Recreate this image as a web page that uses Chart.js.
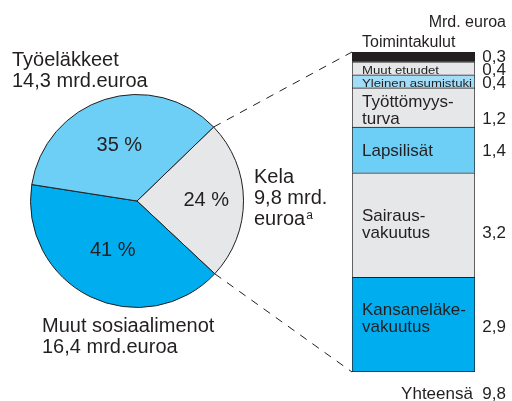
<!DOCTYPE html>
<html>
<head>
<title>Kela - sosiaalimenot</title>
<script src="https://cdn.jsdelivr.net/npm/chart.js"></script>
<style>
    body { margin: 0; background: #fff; }
    #wrap { position: relative; width: 512px; height: 401px; }
    #wrap canvas { position: absolute; left: 0; top: 0; }
</style>
</head>
<body>
<div id="wrap">
    <canvas id="pieChart" width="512" height="401"></canvas>
    <canvas id="barChart" width="512" height="401"></canvas>
</div>
<script>
const pieLabels = ['Kela', 'Muut sosiaalimenot', 'Työeläkkeet'];
const pieValues = [9.8, 16.4, 14.3];
const pieShares = ['24 %', '41 %', '35 %'];
const pieColors = ['#e6e7e8', '#00aeef', '#6dcff6'];

// Kela breakdown, bottom to top
const kelaLabels = ['Kansaneläkevakuutus', 'Sairausvakuutus', 'Lapsilisät', 'Työttömyysturva', 'Yleinen asumistuki', 'Muut etuudet', 'Toimintakulut'];
const kelaLines = [['Kansaneläke-', 'vakuutus'], ['Sairaus-', 'vakuutus'], ['Lapsilisät'], ['Työttömyys-', 'turva'], ['Yleinen asumistuki'], ['Muut etuudet'], ['Toimintakulut']];
const kelaValues = [2.9, 3.2, 1.4, 1.2, 0.4, 0.4, 0.3];
const kelaTotal = 9.8;
const kelaColors = ['#00aeef', '#e6e7e8', '#6dcff6', '#e6e7e8', '#a3dcf7', '#e6e7e8', '#231f20'];

const ink = '#231f20';
const font = '"Liberation Sans", Arial, sans-serif';
const fmt = v => v.toFixed(1).replace('.', ',');

//Pie with its labels
const pieText = {
    id: 'pieText',
    afterDraw(chart) {
        const ctx = chart.ctx;
        const arcs = chart.getDatasetMeta(0).data;
        const radial = [0.65, 0.52, 0.55];
        ctx.save();
        ctx.fillStyle = ink;
        ctx.font = '20px ' + font;
        ctx.textAlign = 'center';
        ctx.textBaseline = 'middle';
        arcs.forEach((a, i) => {
            const mid = (a.startAngle + a.endAngle) / 2;
            const d = a.outerRadius * radial[i];
            ctx.fillText(pieShares[i], a.x + Math.cos(mid) * d, a.y + Math.sin(mid) * d);
        });
        ctx.textAlign = 'left';
        ctx.textBaseline = 'alphabetic';
        ctx.fillText('Työeläkkeet', 12, 66);
        ctx.fillText('14,3 mrd.euroa', 12, 87);
        ctx.fillText('Kela', 254, 183);
        ctx.fillText('9,8 mrd.', 254, 204);
        ctx.fillText('euroa', 254, 225);
        const w = ctx.measureText('euroa').width;
        ctx.font = '12px ' + font;
        ctx.fillText('a', 255 + w, 219);
        ctx.font = '20px ' + font;
        ctx.fillText('Muut sosiaalimenot', 42, 332);
        ctx.fillText('16,4 mrd.euroa', 42, 353);
        ctx.restore();
    }
};

const pie = new Chart(document.getElementById('pieChart'), {
    type: 'pie',
    data: {
        labels: pieLabels,
        datasets: [{
            data: pieValues,
            backgroundColor: pieColors,
            borderColor: ink,
            borderWidth: 1,
            hoverOffset: 0
        }]
    },
    options: {
        responsive: false,
        animation: false,
        events: [],
        rotation: 46,
        layout: { padding: { left: 30, right: 268, top: 94, bottom: 93 } },
        plugins: { legend: { display: false }, tooltip: { enabled: false } }
    },
    plugins: [pieText]
});

//Stacked bar, dashed leaders and texts
const barText = {
    id: 'barText',
    afterDraw(chart) {
        const ctx = chart.ctx;
        const bars = chart.data.datasets.map((d, i) => chart.getDatasetMeta(i).data[0]);
        const kela = pie.getDatasetMeta(0).data[0];
        const top = bars[bars.length - 1], bottom = bars[0];
        const left = top.x - top.width / 2;
        const right = top.x + top.width / 2;
        const nudge = [-7, -2, 0, 2];
        ctx.save();
        ctx.strokeStyle = ink;
        ctx.lineWidth = 1;
        ctx.setLineDash([8, 7]);
        ctx.beginPath();
        ctx.moveTo(kela.x + Math.cos(kela.startAngle) * kela.outerRadius, kela.y + Math.sin(kela.startAngle) * kela.outerRadius);
        ctx.lineTo(left, top.y);
        ctx.moveTo(kela.x + Math.cos(kela.endAngle) * kela.outerRadius, kela.y + Math.sin(kela.endAngle) * kela.outerRadius);
        ctx.lineTo(left, bottom.base);
        ctx.stroke();
        ctx.setLineDash([]);

        // thin-segment labels are short but stretched to fill the bar
        ctx.font = '11px ' + font;
        const stretch = (top.width - 13) / ctx.measureText('Yleinen asumistuki').width;

        ctx.fillStyle = ink;
        ctx.textBaseline = 'alphabetic';
        bars.forEach((b, i) => {
            const lines = kelaLines[i];
            const small = kelaValues[i] < 0.45;
            const valueX = right + 31;
            ctx.textAlign = 'left';
            if (i === bars.length - 1) {
                ctx.font = '16px ' + font;
                ctx.fillText(lines[0], left + 10, b.y - 5);
                ctx.font = '17px ' + font;
                ctx.textAlign = 'right';
                ctx.fillText(fmt(kelaValues[i]), valueX, b.base);
                return;
            }
            if (small) {
                ctx.save();
                ctx.font = '11px ' + font;
                ctx.translate(left + 10, b.base - 1);
                ctx.scale(stretch, 1);
                ctx.fillText(lines[0], 0, 0);
                ctx.restore();
                ctx.font = '17px ' + font;
                ctx.textAlign = 'right';
                ctx.fillText(fmt(kelaValues[i]), valueX, b.base);
                return;
            }
            ctx.font = '17px ' + font;
            const lh = 17;
            const mid = (b.y + b.base) / 2;
            let y = mid - (lines.length - 1) * lh / 2 + 6 + nudge[i];
            lines.forEach((t, k) => ctx.fillText(t, left + 10, y + k * lh));
            ctx.textAlign = 'right';
            ctx.fillText(fmt(kelaValues[i]), valueX, y + (lines.length - 1) * lh);
        });

        ctx.textAlign = 'right';
        ctx.font = '16px ' + font;
        ctx.fillText('Mrd. euroa', right + 31, 27);
        ctx.font = '17px ' + font;
        ctx.fillText('Yhteensä  ' + fmt(kelaTotal), right + 31, 399);
        ctx.restore();
    }
};

new Chart(document.getElementById('barChart'), {
    type: 'bar',
    data: {
        labels: ['Kela'],
        datasets: kelaLabels.map((name, i) => ({
            label: name,
            data: [kelaValues[i]],
            backgroundColor: kelaColors[i],
            borderColor: ink,
            borderWidth: i === 0 ? 1 : { top: 1, left: 1, right: 1, bottom: 0 },
            borderSkipped: false,
            barPercentage: 1,
            categoryPercentage: 1
        }))
    },
    options: {
        responsive: false,
        animation: false,
        events: [],
        layout: { padding: { left: 352, right: 37, top: 52, bottom: 29 } },
        scales: {
            x: { display: false, stacked: true },
            y: { display: false, stacked: true, min: 0, max: kelaTotal }
        },
        plugins: { legend: { display: false }, tooltip: { enabled: false } }
    },
    plugins: [barText]
});
</script>
</body>
</html>
